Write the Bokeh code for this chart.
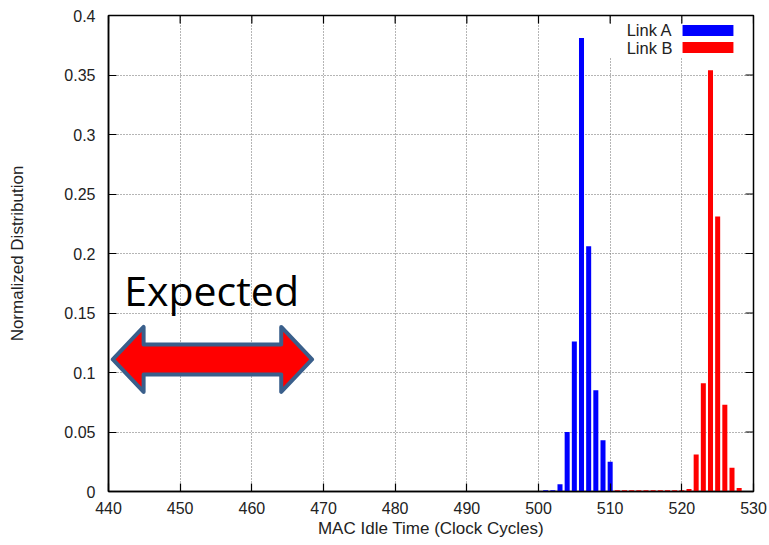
from bokeh.plotting import figure
from bokeh.models import FixedTicker, Range1d, Label
from bokeh.core.properties import value
from bokeh.embed import file_html
from bokeh.resources import INLINE

# ---- data ----
link_a_x = [501, 502, 503, 504, 505, 506, 507, 508, 509, 510]
link_a_y = [0.001, 0.001, 0.006, 0.050, 0.126, 0.381, 0.206, 0.085, 0.043, 0.025]
link_b_x = [511, 512, 513, 514, 515, 516, 517, 518, 519, 520,
            521, 522, 523, 524, 525, 526, 527, 528]
link_b_y = [0.001, 0.001, 0.001, 0.001, 0.001, 0.001, 0.001, 0.001, 0.001, 0.001,
            0.002, 0.031, 0.091, 0.354, 0.231, 0.073, 0.020, 0.003]
x_ticks = [440, 450, 460, 470, 480, 490, 500, 510, 520, 530]
y_ticks = [0, 0.05, 0.1, 0.15, 0.2, 0.25, 0.3, 0.35, 0.4]
y_tick_labels = ["0", "0.05", "0.1", "0.15", "0.2", "0.25", "0.3", "0.35", "0.4"]
series_names = ["Link A", "Link B"]
series_colors = ["#0000FF", "#FF0000"]
# annotation: expected range arrow (data units)
arrow_x = [440.6, 468.4]
arrow_y = 0.111
annotation_text = "Expected"

FONT = "Liberation Sans"
TXT = "#222222"
X0, X1, Y0, Y1 = 440, 530, 0, 0.4

p = figure(width=769, height=545, output_backend="svg", toolbar_location=None,
           x_range=Range1d(X0, X1), y_range=Range1d(Y0, Y1),
           min_border_left=108, min_border_right=16, min_border_top=15,
           min_border_bottom=54, x_axis_label="MAC Idle Time (Clock Cycles)",
           y_axis_label="Normalized Distribution")
p.background_fill_color = "white"
p.border_fill_color = "white"
p.outline_line_color = "black"
p.outline_line_width = 1.5

# bars
p.vbar(x=link_a_x, top=link_a_y, width=0.7, bottom=0, color=series_colors[0], line_color=None)
p.vbar(x=link_b_x, top=link_b_y, width=0.7, bottom=0, color=series_colors[1], line_color=None)

# axes styling
for ax in [p.xaxis[0], p.yaxis[0]]:
    ax.major_tick_in = 8
    ax.major_tick_out = 0
    ax.minor_tick_in = 0
    ax.minor_tick_out = 0
    ax.axis_line_color = "black"
    ax.axis_line_width = 1.5
    ax.major_tick_line_width = 1.2
    ax.major_label_text_font = FONT
    ax.major_label_text_font_size = "16px"
    ax.major_label_text_color = TXT
    ax.axis_label_text_font = FONT
    ax.axis_label_text_font_size = "17px"
    ax.axis_label_text_font_style = "normal"
    ax.axis_label_text_color = TXT

p.xaxis[0].ticker = FixedTicker(ticks=x_ticks)
p.yaxis[0].ticker = FixedTicker(ticks=y_ticks)
p.yaxis[0].major_label_overrides = {t: l for t, l in zip(y_ticks, y_tick_labels)}
p.xaxis[0].major_label_standoff = 10
p.xaxis[0].axis_label_standoff = 2
p.yaxis[0].major_label_standoff = 13
p.yaxis[0].axis_label_standoff = 34

# grid
p.xgrid.ticker = FixedTicker(ticks=x_ticks)
p.ygrid.ticker = FixedTicker(ticks=y_ticks)
for g in [p.xgrid[0], p.ygrid[0]]:
    g.grid_line_color = "#6a6a6a"
    g.grid_line_dash = "1 2"
    g.grid_line_width = 1

# mirrored inward ticks on top and right borders (8px long)
tick_dx = 8 * (X1 - X0) / 645
tick_dy = 8 * (Y1 - Y0) / 476
p.segment(x0=x_ticks, x1=x_ticks, y0=[Y1] * len(x_ticks), y1=[Y1 - tick_dy] * len(x_ticks),
          line_color="black", line_width=1.2)
p.segment(x0=[X1] * len(y_ticks), x1=[X1 - tick_dx] * len(y_ticks), y0=y_ticks, y1=y_ticks,
          line_color="black", line_width=1.2)

# legend (gnuplot style: label then sample), on a white key area
p.quad(left=[508.7], right=[528.9], bottom=[0.3647], top=[0.3924],
       fill_color="white", line_color=None)
leg_x_text = 518.7
leg_sample = [520.1, 527.2]
leg_y = [0.3874, 0.3731]
for name, col, yy in zip(series_names, series_colors, leg_y):
    p.text(x=[leg_x_text], y=[yy], text=[name], text_align="right", text_baseline="middle",
           text_font=value(FONT), text_font_size="16.5px", text_color=TXT)
    p.quad(left=[leg_sample[0]], right=[leg_sample[1]], bottom=[yy - 0.0046], top=[yy + 0.0046],
           color=col, line_color=None)

# double-headed arrow annotation
x0, x1 = arrow_x
head_len = 4.3
hh = 0.0273
sh = 0.0126
xs = [x0, x0 + head_len, x0 + head_len, x1 - head_len, x1 - head_len, x1,
      x1 - head_len, x1 - head_len, x0 + head_len, x0 + head_len]
ys = [arrow_y, arrow_y + hh, arrow_y + sh, arrow_y + sh, arrow_y + hh, arrow_y,
      arrow_y - hh, arrow_y - sh, arrow_y - sh, arrow_y - hh]
p.patch(xs, ys, fill_color="#FF0000", line_color="#3A5F8B", line_width=4, line_join="round")

p.add_layout(Label(x=442.2, y=0.1697, text=annotation_text, text_font="Open Sans",
                   text_font_size="41px", text_color="black", text_baseline="alphabetic"))

open("out.html", "w").write(file_html(p, INLINE))
